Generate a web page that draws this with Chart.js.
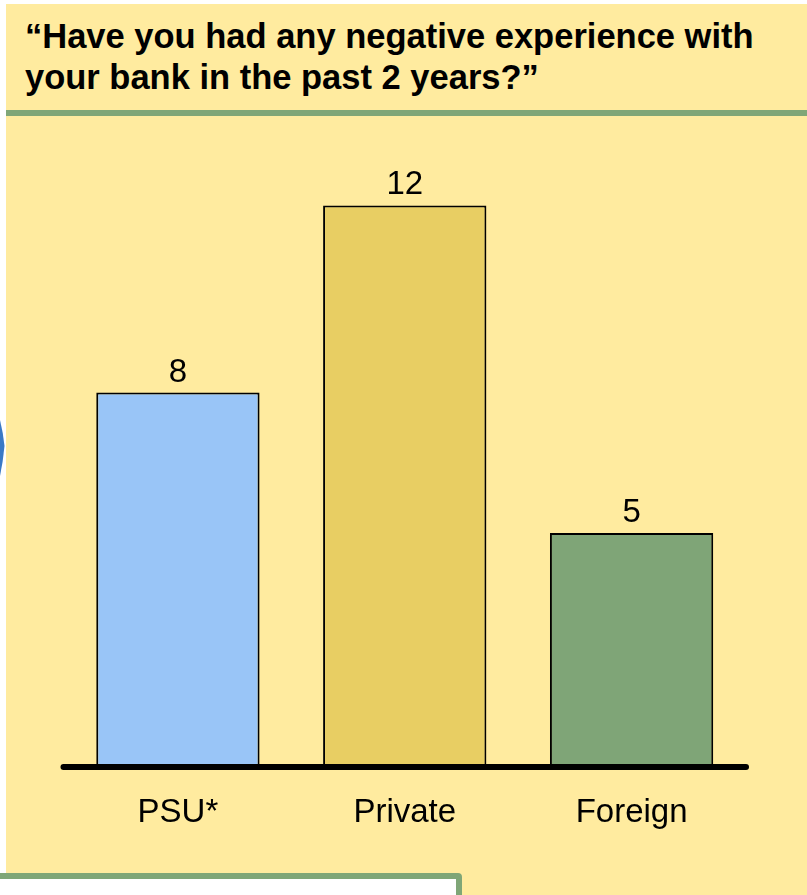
<!DOCTYPE html>
<html>
<head>
<meta charset="utf-8">
<script src="https://cdn.jsdelivr.net/npm/chart.js@4"></script>
<style>
  html, body { margin: 0; padding: 0; background: #ffffff; }
  body { width: 807px; height: 895px; position: relative; overflow: hidden; font-family: "Liberation Sans", Arial, sans-serif; }
  #panel { position: absolute; left: 6px; top: 4px; right: 0; bottom: 0; background: #FFEB9F; }
  #title { position: absolute; left: 25px; top: 16px; font-weight: bold; font-size: 34.5px; line-height: 41px; color: #000; white-space: nowrap; }
  #rule { position: absolute; left: 6px; right: 0; top: 110px; height: 6px; background: #7FA677; }
  #chartWrap { position: absolute; left: 0; top: 0; width: 807px; height: 895px; }
  #note { position: absolute; left: -20px; top: 873px; width: 470px; height: 60px; background: #ffffff; border: 6px solid #7FA677; border-radius: 4px; }
  #arrow { position: absolute; left: 0; top: 418px; }
</style>
</head>
<body>
<div id="panel"></div>
<svg id="arrow" width="8" height="60" viewBox="0 0 8 60">
  <path d="M0 2 Q3 14 4.5 28 Q3 44 0 58 Z" fill="#3A79C6"/>
</svg>
<div id="title">“Have you had any negative experience with<br>your bank in the past 2 years?”</div>
<div id="rule"></div>
<div id="chartWrap"><canvas id="c" width="807" height="895"></canvas></div>
<div id="note"></div>
<script>
// Survey result: count of respondents by bank type
const categories = ['PSU*', 'Private', 'Foreign'];
const values = [8, 12, 5];
const barColors = ['#99C5F7', '#E8CE63', '#7FA577'];

const LABEL_FONT = { family: '"Liberation Sans", Arial, sans-serif', size: 33 };

// value printed above each bar
const valueLabels = {
  id: 'valueLabels',
  afterDatasetsDraw(chart) {
    const { ctx } = chart;
    const meta = chart.getDatasetMeta(0);
    ctx.save();
    ctx.fillStyle = '#000';
    ctx.font = `${LABEL_FONT.size}px ${LABEL_FONT.family}`;
    ctx.textAlign = 'center';
    ctx.textBaseline = 'alphabetic';
    meta.data.forEach((bar, i) => {
      ctx.fillText(String(chart.data.datasets[0].data[i]), bar.x, bar.y - 11);
    });
    ctx.restore();
  }
};

// heavy baseline along zero
const baseline = {
  id: 'baseline',
  afterDatasetsDraw(chart) {
    const { ctx, chartArea, scales } = chart;
    const y = scales.y.getPixelForValue(0);
    ctx.save();
    ctx.strokeStyle = '#000';
    ctx.lineWidth = 6;
    ctx.lineCap = 'round';
    ctx.beginPath();
    ctx.moveTo(chartArea.left - 1, y);
    ctx.lineTo(chartArea.right + 1, y);
    ctx.stroke();
    ctx.restore();
  }
};

new Chart(document.getElementById('c'), {
  type: 'bar',
  data: {
    labels: categories,
    datasets: [{
      data: values,
      backgroundColor: barColors,
      borderColor: '#000',
      borderWidth: 2,
      borderSkipped: 'start',
      barPercentage: 0.72,
      categoryPercentage: 1.0
    }]
  },
  options: {
    responsive: false,
    devicePixelRatio: 1,
    animation: false,
    layout: { padding: { left: 64.5, right: 62, top: 158.6, bottom: 0 } },
    plugins: { legend: { display: false }, tooltip: { enabled: false }, title: { display: false } },
    scales: {
      x: {
        grid: { display: false, drawTicks: false },
        border: { display: false },
        ticks: { color: '#000', font: LABEL_FONT, padding: 26, maxRotation: 0 },
        afterFit(scale) { scale.height = 128; }
      },
      y: { display: false, min: 0, max: 13 }
    }
  },
  plugins: [valueLabels, baseline]
});
</script>
</body>
</html>
